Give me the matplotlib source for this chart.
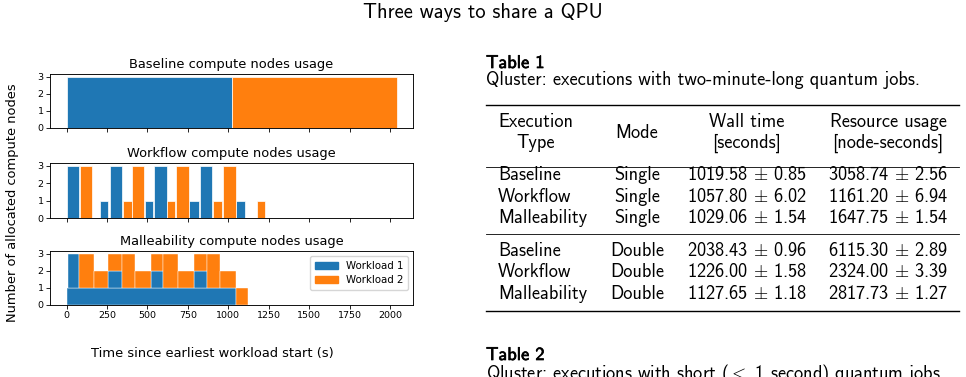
import matplotlib
matplotlib.use("Agg")
import matplotlib.pyplot as plt
from matplotlib.patches import Patch
import matplotlib.patheffects as pe

# colores por workload
c1 = '#1f77b4'
c2 = '#ff7f0e'

# Baseline: (inicio, duracion, nodos)
base_w1 = [(0, 1019.58, 3)]
base_w2 = [(1019.58, 1018.85, 3)]

# Workflow: (inicio, duracion, nodos)
wf_w1 = [(0, 80, 3), (206, 53, 1), (268, 76, 3), (484, 53, 1),
         (540, 78, 3), (758, 60, 1), (822, 78, 3), (1046, 56, 1)]
wf_w2 = [(82, 77, 3), (346, 56, 1), (404, 76, 3), (620, 53, 1),
         (677, 79, 3), (902, 60, 1), (966, 78, 3), (1174, 53, 1)]

# Malleability: (inicio, duracion, base, nodos)
mal_w1 = [(0, 1044, 0, 1), (8, 72, 1, 2), (257, 83, 1, 1),
          (519, 80, 1, 1), (785, 80, 1, 1)]
mal_w2 = [(80, 87, 1, 2), (167, 90, 1, 1), (257, 83, 2, 1), (340, 82, 1, 2),
          (422, 97, 1, 1), (519, 80, 2, 1), (599, 87, 1, 2), (686, 99, 1, 1),
          (785, 80, 2, 1), (865, 86, 1, 2), (951, 93, 1, 1), (1044, 80, 0, 1)]

# Tablas
tipos = ['Baseline', 'Workflow', 'Malleability']
modo_1 = ['Single', 'Single', 'Single']
modo_2 = ['Double', 'Double', 'Double']
wall_1 = ['1019.58 $\\pm$ 0.85', '1057.80 $\\pm$ 6.02', '1029.06 $\\pm$ 1.54']
res_1 = ['3058.74 $\\pm$ 2.56', '1161.20 $\\pm$ 6.94', '1647.75 $\\pm$ 1.54']
wall_2 = ['2038.43 $\\pm$ 0.96', '1226.00 $\\pm$ 1.58', '1127.65 $\\pm$ 1.18']
res_2 = ['6115.30 $\\pm$ 2.89', '2324.00 $\\pm$ 3.39', '2817.73 $\\pm$ 1.27']

plt.rcParams['mathtext.fontset'] = 'cm'
plt.rcParams['axes.linewidth'] = 0.65

W, H = 966, 377
fig = plt.figure(figsize=(W / 100, H / 100), dpi=100)


def px(x, y):
    return x / W, 1 - y / H


def caja(top, bottom):
    l, b = px(50, bottom)
    return [l, b, (413 - 50) / W, (bottom - top) / H]


ax1 = fig.add_axes(caja(74, 128))
ax2 = fig.add_axes(caja(163, 218), sharex=ax1)
ax3 = fig.add_axes(caja(251, 305), sharex=ax1)

for b in base_w1:
    ax1.bar(b[0], b[2], width=b[1], align='edge', color=c1, edgecolor='white', linewidth=0.5)
for b in base_w2:
    ax1.bar(b[0], b[2], width=b[1], align='edge', color=c2, edgecolor='white', linewidth=0.5)
for b in wf_w1:
    ax2.bar(b[0], b[2], width=b[1], align='edge', color=c1, edgecolor='white', linewidth=0.5)
for b in wf_w2:
    ax2.bar(b[0], b[2], width=b[1], align='edge', color=c2, edgecolor='white', linewidth=0.5)
for b in mal_w1:
    ax3.bar(b[0], b[3], width=b[1], bottom=b[2], align='edge', color=c1, edgecolor='white', linewidth=0.3)
for b in mal_w2:
    ax3.bar(b[0], b[3], width=b[1], bottom=b[2], align='edge', color=c2, edgecolor='white', linewidth=0.3)

titulos = ['Baseline compute nodes usage', 'Workflow compute nodes usage',
           'Malleability compute nodes usage']
for ax, t in zip([ax1, ax2, ax3], titulos):
    ax.set_title(t, fontsize=9.4, pad=4)
    ax.set_yticks([0, 1, 2, 3])
    ax.tick_params(labelsize=6.8, length=2.6, width=0.6, pad=2)
ax1.tick_params(labelbottom=False)
ax2.tick_params(labelbottom=False)
ax1.set_xticks([0, 250, 500, 750, 1000, 1250, 1500, 1750, 2000])

ax3.legend(handles=[Patch(color=c1, label='Workload 1'), Patch(color=c2, label='Workload 2')],
           loc='upper right', fontsize=7.4, handlelength=2.2, borderpad=0.45, labelspacing=0.45)

fig.text(*px(212, 354), 'Time since earliest workload start (s)', fontsize=9.4, ha='center', va='center')
fig.text(*px(13, 203), 'Number of allocated compute nodes', fontsize=9.4, ha='center', va='center',
         rotation=90)

# titulo general
fig.text(*px(483, 13), 'Three ways to share a QPU', family='cmss10', fontsize=14.8,
         ha='center', va='center')

# Tabla 1
fs = 13.2
negrita = [pe.withStroke(linewidth=0.5, foreground='black')]
fig.text(*px(486, 68), 'Table 1', family='cmss10', fontsize=fs, va='baseline', path_effects=negrita)
fig.text(*px(486, 85), 'Qluster: executions with two-minute-long quantum jobs.', family='cmss10',
         fontsize=fs, va='baseline')


def regla(y, lw):
    fig.add_artist(plt.Line2D([486 / W, 959 / W], [1 - y / H, 1 - y / H], color='black', lw=lw))


regla(104.5, 1.0)
regla(166.7, 0.6)
regla(234.3, 0.6)
regla(310.5, 1.0)

cab = [(536, 126.7, 'Execution'), (536, 148, 'Type'), (637, 138, 'Mode'),
       (747, 126.7, 'Wall time'), (747, 148, '[seconds]'),
       (888, 126.7, 'Resource usage'), (888, 148, '[node-seconds]')]
for x, y, t in cab:
    fig.text(*px(x, y), t, family='cmss10', fontsize=fs, ha='center', va='baseline')

filas_y1 = [180, 201.7, 223.3]
filas_y2 = [256, 277.3, 299]
for ys, modos, wall, res in [(filas_y1, modo_1, wall_1, res_1), (filas_y2, modo_2, wall_2, res_2)]:
    for y, t, m, w, r in zip(ys, tipos, modos, wall, res):
        fig.text(*px(498, y), t, family='cmss10', fontsize=fs, va='baseline')
        fig.text(*px(637, y), m, family='cmss10', fontsize=fs, ha='center', va='baseline')
        fig.text(*px(747, y), w, family='cmss10', fontsize=fs, ha='center', va='baseline')
        fig.text(*px(888, y), r, family='cmss10', fontsize=fs, ha='center', va='baseline')

# Tabla 2 (cortada en el borde, como en el original)
fig.text(*px(486, 360), 'Table 2', family='cmss10', fontsize=fs, va='baseline', path_effects=negrita)
fig.text(*px(486, 379), 'Qluster: executions with short ($<$ 1 second) quantum jobs.', family='cmss10',
         fontsize=fs, va='baseline')

fig.savefig('out.png', dpi=100)
